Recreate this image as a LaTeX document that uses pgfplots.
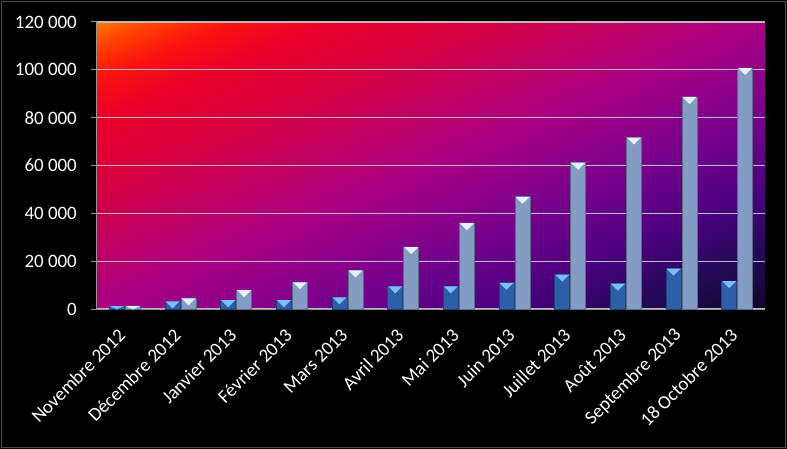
\documentclass[border=0pt]{standalone}
\usepackage{fontspec}
\setmainfont{Carlito}
\usepackage{pgfplots}
\pgfplotsset{compat=1.18}
\usetikzlibrary{shapes.geometric}
\definecolor{g0}{RGB}{255,120,0}
\definecolor{g1}{RGB}{255,65,0}
\definecolor{g2}{RGB}{250,18,15}
\definecolor{g3}{RGB}{235,0,40}
\definecolor{g4}{RGB}{213,0,65}
\definecolor{g5}{RGB}{170,0,132}
\definecolor{g6}{RGB}{112,0,140}
\definecolor{g7}{RGB}{72,0,125}
\definecolor{g8}{RGB}{35,10,85}
\definecolor{g9}{RGB}{15,5,45}
% position = 14.64 + 70.71 t  (t: 0 top-left corner, 1 bottom-right corner)
\pgfdeclarehorizontalshading{plotbg}{100bp}{color(0bp)=(g0); color(14.64bp)=(g0); color(17.5bp)=(g1); color(21.5bp)=(g2); color(26.5bp)=(g3); color(35.1bp)=(g4); color(50bp)=(g5); color(62.7bp)=(g6); color(71.2bp)=(g7); color(78.3bp)=(g8); color(85.36bp)=(g9); color(100bp)=(g9)}
\definecolor{darkL}{RGB}{45,95,168}
\definecolor{darkM}{RGB}{88,152,222}
\definecolor{lightL}{RGB}{132,155,195}
\definecolor{lightM}{RGB}{186,206,235}
\definecolor{axgray}{RGB}{150,150,150}
\definecolor{gridgray}{RGB}{185,185,190}
\begin{document}
\begin{tikzpicture}
\fill[black] (-97bp,-140bp) rectangle (690bp,309bp);
\draw[gray!60!black, line width=1bp] (-95bp,-138bp) rectangle (688bp,307bp);
\begin{scope}[transform canvas={xscale=6.68, yscale=2.87}]
\shade[shading=plotbg, shading angle=-45] (0,0) rectangle (100bp,100bp);
\end{scope}
\begin{axis}[
  at={(0,0)}, anchor=south west,
  scale only axis, width=668bp, height=287bp,
  xmin=-0.5, xmax=11.5, ymin=0, ymax=120,
  axis line style={axgray, line width=1bp},
  axis x line*=bottom, axis y line*=left,
  ybar=1bp, bar width=15bp,
  xtick={0,...,11},
  xticklabels={Novembre 2012,Décembre 2012,Janvier 2013,Février 2013,Mars 2013,Avril 2013,Mai 2013,Juin 2013,Juillet 2013,Août 2013,Septembre 2013,18 Octobre 2013},
  x tick style={draw=none},
  major tick length=6bp,
  tick align=outside,
  extra x ticks={-0.5,0.5,...,11.5},
  extra x tick labels={},
  extra x tick style={tick style={draw=axgray, line width=1bp}, grid=none},
  ytick={0,20,...,120},
  yticklabels={0,20 000,40 000,60 000,80 000,100 000,120 000},
  y tick style={draw=axgray, line width=1bp},
  ymajorgrids,
  major grid style={gridgray, line width=1.2bp},
  tick label style={text=white, font=\fontsize{19}{22}\selectfont},
  yticklabel style={anchor=east, inner sep=0pt, xshift=-14bp},
  xticklabel style={inner sep=0pt, xshift=-3bp, yshift=-17bp, rotate=45, anchor=east},
  visualization depends on={rawy \as \ry},
  nodes near coords={},
  every node near coord/.append style={shape=isosceles triangle, shape border rotate=270, isosceles triangle stretches, minimum width=14bp, minimum height={min(7,\ry*2.4)*1bp}, inner sep=0pt, outer sep=0pt, draw=none, anchor=north, yshift=-0.3bp},
  clip=false,
]
\addplot[draw=darkL!70!black, line width=0.4bp, left color=darkL, middle color=darkM, right color=darkL,
  every node near coord/.append style={fill={rgb,255:red,125;green,190;blue,248}}] coordinates {
(0,1.3) (1,3.3) (2,3.8) (3,3.8) (4,5.0) (5,9.6) (6,9.6) (7,11.0) (8,14.5) (9,10.7) (10,17.0) (11,11.8)};
\addplot[draw=lightL!70!black, line width=0.4bp, left color=lightL, middle color=lightM, right color=lightL,
  every node near coord/.append style={fill={rgb,255:red,228;green,240;blue,253}}] coordinates {
(0,1.3) (1,4.6) (2,8.0) (3,11.3) (4,16.3) (5,26.0) (6,36.0) (7,47.0) (8,61.3) (9,71.8) (10,88.75) (11,100.87)};
\end{axis}
\pgfresetboundingbox
\useasboundingbox (-97bp,-140bp) rectangle (690bp,309bp);
\end{tikzpicture}
\end{document}
